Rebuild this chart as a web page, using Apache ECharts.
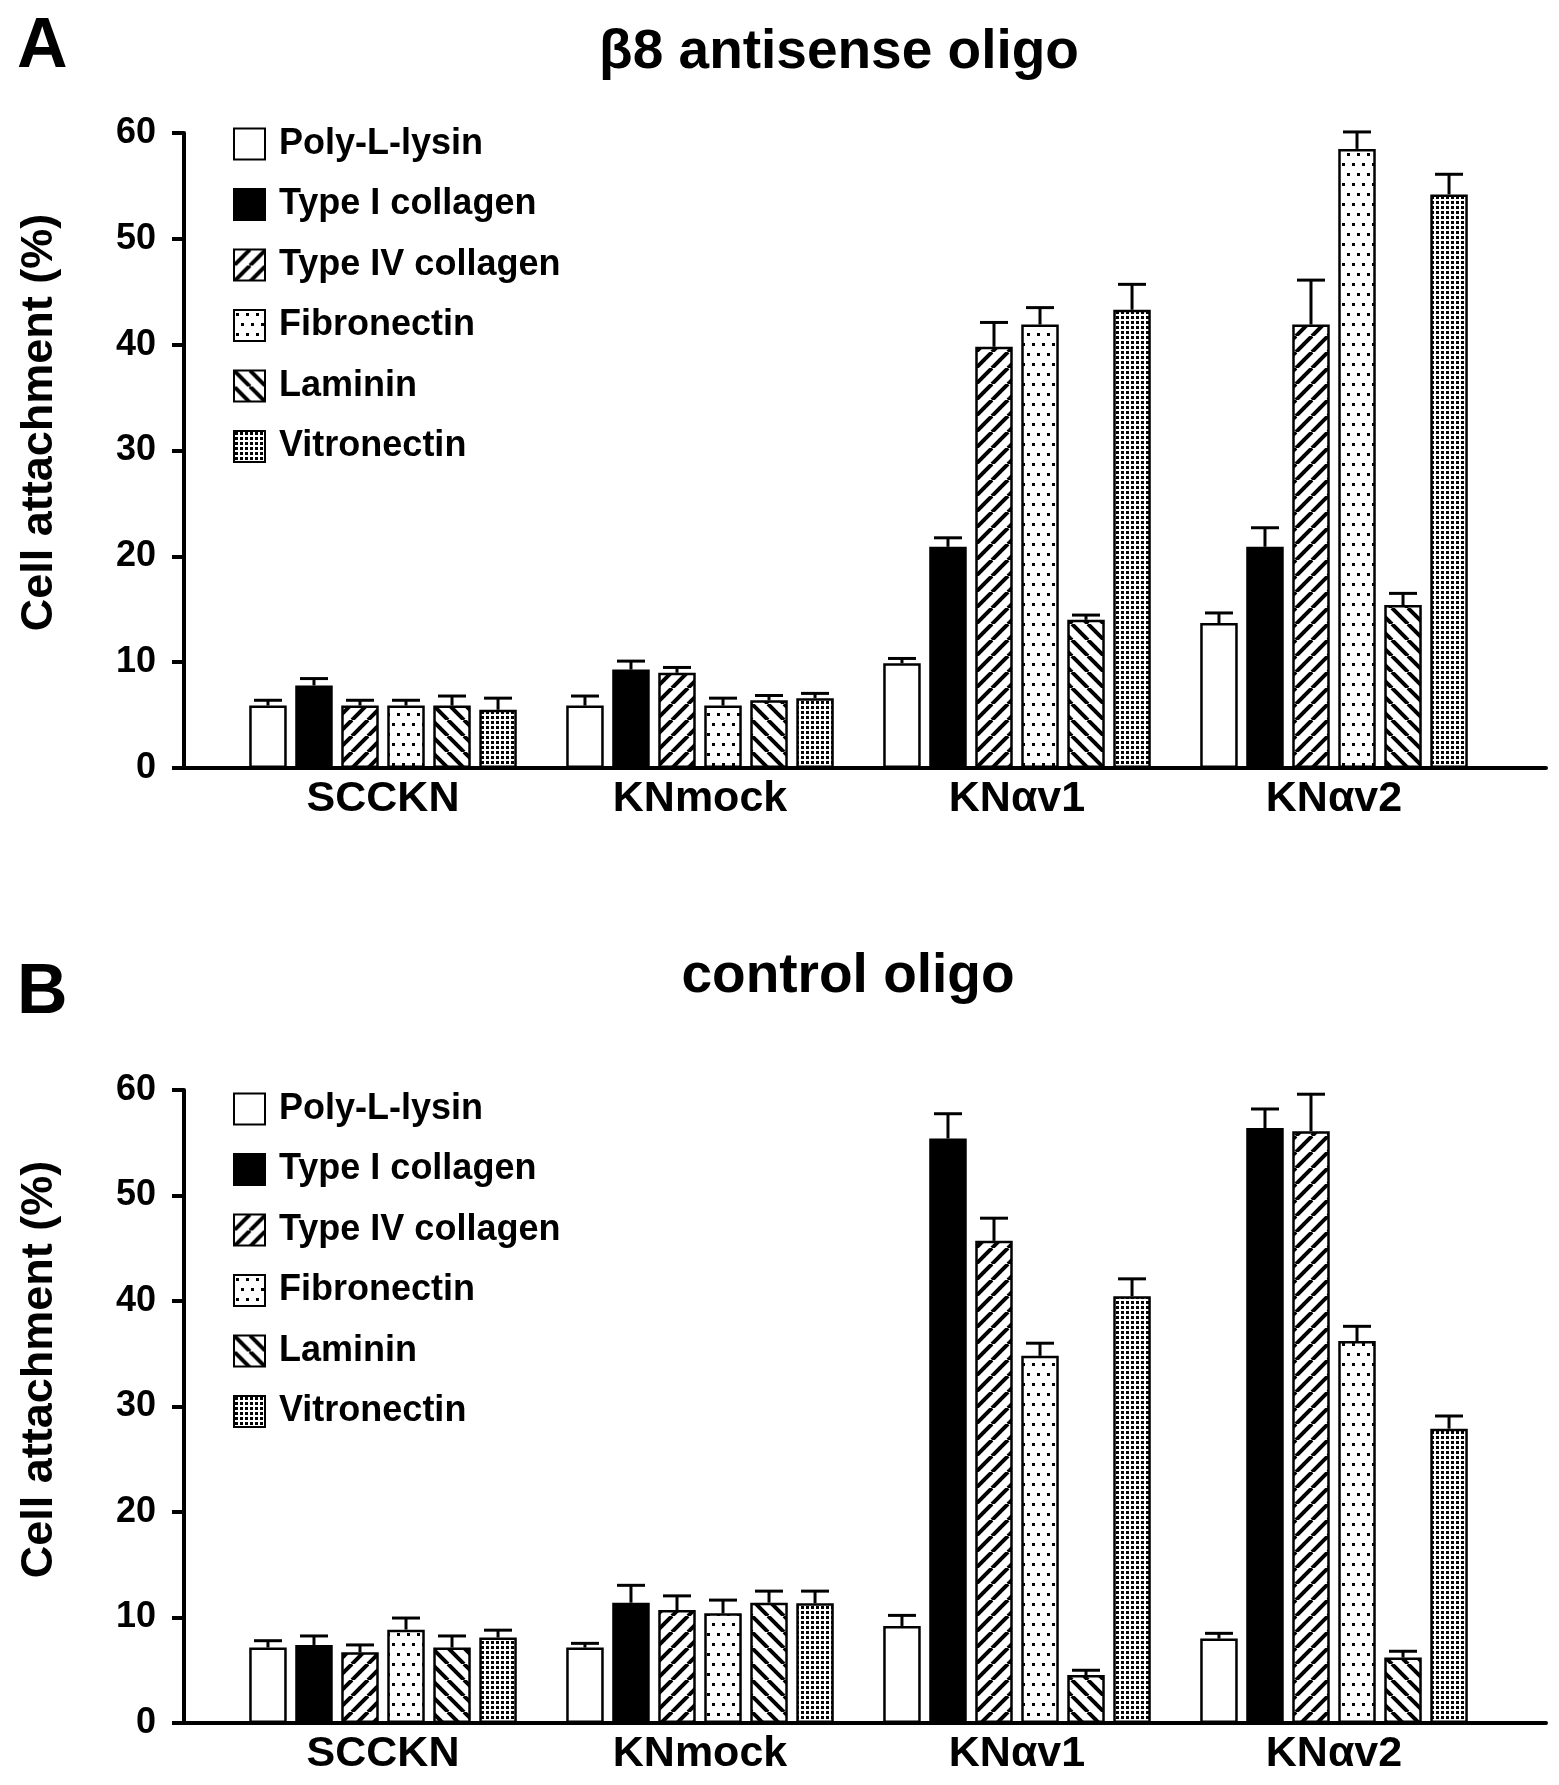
<!DOCTYPE html>
<html>
<head>
<meta charset="utf-8">
<script src="https://cdn.jsdelivr.net/npm/echarts@6/dist/echarts.min.js"></script>
<style>
html,body{margin:0;padding:0;background:#fff;}
#chart{width:1559px;height:1785px;}
</style>
</head>
<body>
<div id="chart"></div>
<script>
// ---------------- DATA ----------------
const categories = ['SCCKN', 'KNmock', 'KN\u03b1v1', 'KN\u03b1v2'];
const substrates = ['Poly-L-lysin', 'Type I collagen', 'Type IV collagen', 'Fibronectin', 'Laminin', 'Vitronectin'];
const yTicks = [0, 10, 20, 30, 40, 50, 60];
const panelTitles = ['\u03b28 antisense oligo', 'control oligo'];
const panelLetters = ['A', 'B'];
const yAxisTitle = 'Cell attachment (%)';

// mean values: one row per substrate, one column per cell line
const antisenseMeans = [
  [5.9, 5.9, 9.9, 13.7],
  [7.8, 9.3, 20.9, 20.9],
  [5.9, 9.0, 39.8, 41.9],
  [5.9, 5.9, 41.9, 58.5],
  [5.9, 6.4, 14.0, 15.4],
  [5.5, 6.6, 43.3, 54.2]
];
const antisenseErrors = [
  [0.5, 0.9, 0.45, 0.95],
  [0.65, 0.8, 0.85, 1.8],
  [0.5, 0.5, 2.3, 4.2],
  [0.5, 0.7, 1.6, 1.6],
  [0.9, 0.45, 0.45, 1.1],
  [1.1, 0.45, 2.4, 1.9]
];
const controlMeans = [
  [7.15, 7.15, 9.2, 8.0],
  [7.4, 11.4, 55.4, 56.4],
  [6.7, 10.7, 45.7, 56.1],
  [8.85, 10.4, 34.8, 36.2],
  [7.15, 11.4, 4.55, 6.2],
  [8.1, 11.35, 40.45, 27.9]
];
const controlErrors = [
  [0.65, 0.4, 1.0, 0.5],
  [0.85, 1.65, 2.35, 1.8],
  [0.7, 1.35, 2.15, 3.5],
  [1.1, 1.25, 1.2, 1.4],
  [1.1, 1.1, 0.45, 0.6],
  [0.7, 1.15, 1.65, 1.2]
];

// ---------------- STYLE ----------------
const FONT = 'Liberation Sans, Arial, Helvetica, sans-serif';
const BAR_W = 37.5;
const BAR_GAP = 0.227;
const PITCH = BAR_W * (1 + BAR_GAP);
const CAP = 28;

function makePattern(w, h, draw) {
  const c = document.createElement('canvas');
  c.width = w; c.height = h;
  const ctx = c.getContext('2d');
  ctx.fillStyle = '#fff';
  ctx.fillRect(0, 0, w, h);
  ctx.fillStyle = '#000';
  ctx.strokeStyle = '#000';
  draw(ctx, w, h);
  return { image: c, repeat: 'repeat' };
}
const fwdHatch = makePattern(16, 16, (ctx, w, h) => {
  ctx.lineWidth = 4;
  for (let k = -1; k <= 1; k++) {
    ctx.beginPath(); ctx.moveTo(k * w, h); ctx.lineTo(k * w + w, 0); ctx.stroke();
  }
});
const backHatch = makePattern(16, 16, (ctx, w, h) => {
  ctx.lineWidth = 4;
  for (let k = -1; k <= 1; k++) {
    ctx.beginPath(); ctx.moveTo(k * w, 0); ctx.lineTo(k * w + w, h); ctx.stroke();
  }
});
const sparseDots = makePattern(10, 20, (ctx) => {
  ctx.fillRect(2, 3, 3, 3);
  ctx.fillRect(7, 13, 3, 3);
});
const denseDots = makePattern(5, 5, (ctx) => {
  ctx.fillRect(1, 1, 3, 3);
});
const fills = ['#ffffff', '#000000', fwdHatch, sparseDots, backHatch, denseDots];

// ---------------- LAYOUT ----------------
const panels = [
  { top: 133, height: 635, means: antisenseMeans, errors: antisenseErrors, titleLeft: 834, titleTop: 20, letterTop: 8, legendTop: 121, nameShift: 56 },
  { top: 1090, height: 633, means: controlMeans, errors: controlErrors, titleLeft: 843, titleTop: 944, letterTop: 954, legendTop: 1086, nameShift: 74 }
];
const GRID_LEFT = 224.5, GRID_RIGHT = 66.5;
const AXIS_X = 184, AXIS_RIGHT = 13;

const grid = [], xAxis = [], yAxis = [], series = [], title = [], legend = [];

panels.forEach((p, pi) => {
  const g0 = pi * 2, g1 = pi * 2 + 1;
  grid.push({ left: GRID_LEFT, right: GRID_RIGHT, top: p.top, height: p.height, containLabel: false });
  grid.push({ left: AXIS_X, right: AXIS_RIGHT, top: p.top, height: p.height, containLabel: false });

  xAxis.push({
    type: 'category', gridIndex: g0, data: categories,
    axisLine: { show: false }, axisTick: { show: false },
    axisLabel: { color: '#000', fontFamily: FONT, fontWeight: 'bold', fontSize: 43, margin: 10 }
  });
  xAxis.push({
    type: 'value', gridIndex: g1, min: 0, max: 1,
    axisLine: { show: true, lineStyle: { color: '#000', width: 4 } },
    axisTick: { show: false }, axisLabel: { show: false }, splitLine: { show: false }
  });
  yAxis.push({
    type: 'value', gridIndex: g0, min: yTicks[0], max: yTicks[yTicks.length - 1], interval: 10,
    offset: GRID_LEFT - AXIS_X,
    axisLine: { show: true, lineStyle: { color: '#000', width: 4 } },
    axisTick: { show: true, length: 12, lineStyle: { color: '#000', width: 4 } },
    splitLine: { show: false },
    axisLabel: { color: '#000', fontFamily: FONT, fontWeight: 'bold', fontSize: 36, margin: 28 },
    name: yAxisTitle, nameLocation: 'middle', nameGap: 122,
    nameTextStyle: { color: '#000', fontFamily: FONT, fontWeight: 'bold', fontSize: 45, padding: [0, 0, 0, p.nameShift] }
  });
  yAxis.push({ type: 'value', gridIndex: g1, min: 0, max: 60, show: false });

  substrates.forEach((name, si) => {
    series.push({
      type: 'bar', name: name, xAxisIndex: g0, yAxisIndex: g0,
      data: p.means[si],
      barWidth: BAR_W, barGap: (BAR_GAP * 100) + '%',
      itemStyle: { color: fills[si], borderColor: '#000', borderWidth: 2.5 },
      emphasis: { disabled: true },
      z: 2
    });
  });

  const errData = [];
  substrates.forEach((name, si) => {
    categories.forEach((c, ci) => {
      errData.push([ci, si, p.means[si][ci], p.means[si][ci] + p.errors[si][ci]]);
    });
  });
  series.push({
    type: 'custom', name: 'error', xAxisIndex: g0, yAxisIndex: g0,
    data: errData, encode: { x: 0, y: 3 }, z: 3,
    renderItem: function (params, api) {
      const ci = api.value(0), si = api.value(1);
      const base = api.coord([ci, api.value(2)]);
      const top = api.coord([ci, api.value(3)]);
      const x = base[0] + (si - 2.5) * PITCH;
      const st = { stroke: '#000', lineWidth: 3 };
      return {
        type: 'group', children: [
          { type: 'line', shape: { x1: x, y1: base[1], x2: x, y2: top[1] }, style: st },
          { type: 'line', shape: { x1: x - CAP / 2, y1: top[1], x2: x + CAP / 2, y2: top[1] }, style: st }
        ]
      };
    }
  });

  title.push({
    text: panelTitles[pi], left: p.titleLeft, top: p.titleTop, textAlign: 'center',
    textStyle: { color: '#000', fontFamily: FONT, fontWeight: 'bold', fontSize: 55 }
  });
  title.push({
    text: panelLetters[pi], left: 12, top: p.letterTop,
    textStyle: { color: '#000', fontFamily: FONT, fontWeight: 'bold', fontSize: 70 }
  });
  legend.push({
    data: substrates, orient: 'vertical', left: 228, top: p.legendTop,
    itemWidth: 31, itemHeight: 31, itemGap: 24.5, selectedMode: false,
    icon: 'rect',
    textStyle: { color: '#000', fontFamily: FONT, fontWeight: 'bold', fontSize: 36, padding: [0, 0, 0, 9] }
  });
});

const chart = echarts.init(document.getElementById('chart'), null, { renderer: 'canvas' });
chart.setOption({
  backgroundColor: '#fff',
  animation: false,
  title: title,
  legend: legend,
  grid: grid,
  xAxis: xAxis,
  yAxis: yAxis,
  series: series
});
</script>
</body>
</html>
